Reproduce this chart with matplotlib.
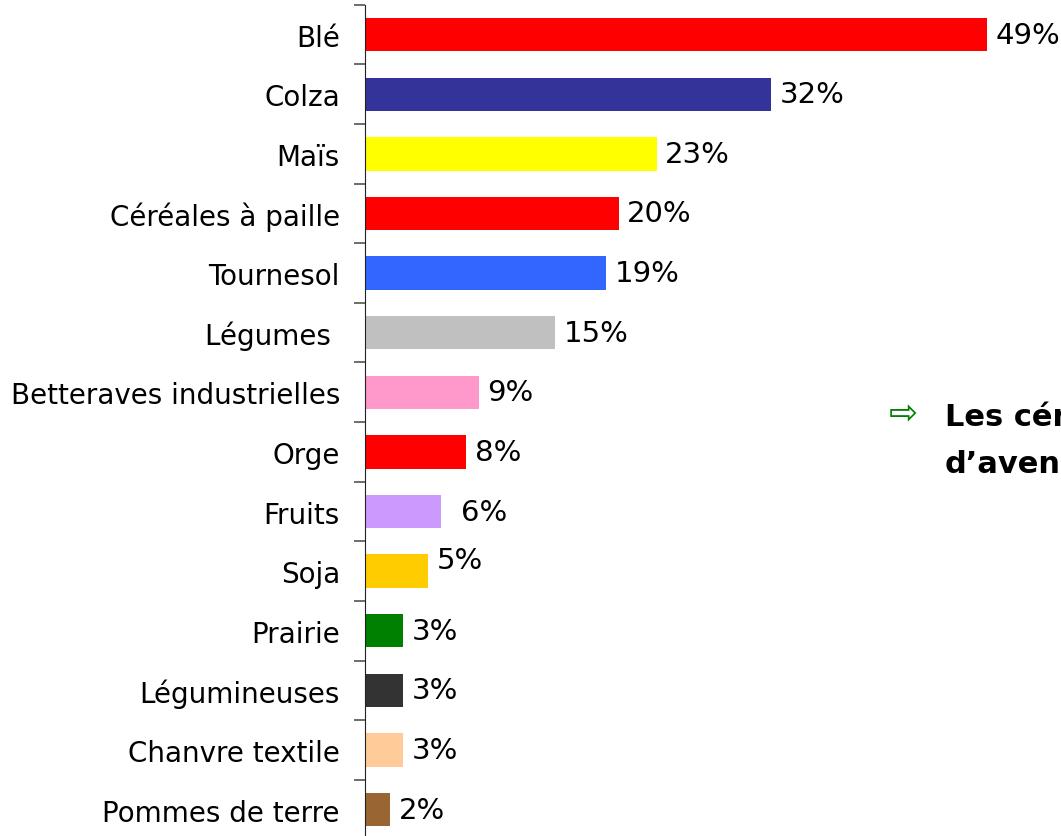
import numpy as np
import matplotlib.pyplot as plt

# crop shares (%)
categories = ['Blé', 'Colza', 'Maïs', 'Céréales à paille', 'Tournesol', 'Légumes ',
              'Betteraves industrielles', 'Orge', 'Fruits', 'Soja', 'Prairie',
              'Légumineuses', 'Chanvre textile', 'Pommes de terre']
values = [49, 32, 23, 20, 19, 15, 9, 8, 6, 5, 3, 3, 3, 2]
colors = ['#FF0000', '#333399', '#FFFF00', '#FF0000', '#3366FF', '#C0C0C0',
          '#FF99CC', '#FF0000', '#CC99FF', '#FFCC00', '#008000', '#333333',
          '#FFCC99', '#996633']
value_labels = [f'{v}%' for v in values]

fig = plt.figure(figsize=(10.61, 8.37), dpi=100)
ax = fig.add_axes([0.344, -0.004, 0.656, 0.997])

y = np.arange(len(categories))
ax.barh(y, values, height=0.56, color=colors)
ax.set_ylim(len(categories) - 0.5, -0.5)
ax.set_xlim(0, 54.85)

for s in ['top', 'right', 'bottom']:
    ax.spines[s].set_visible(False)
ax.spines['left'].set_color('#222222')
ax.set_xticks([])

ax.set_yticks(y)
ax.set_yticklabels(categories, fontsize=20)
ax.tick_params(axis='y', which='major', length=0, pad=18)
ax.set_yticks(np.arange(len(categories) + 1) - 0.5, minor=True)
ax.tick_params(axis='y', which='minor', length=8, width=1.2, color='#555555')

# value labels; a couple of them sit a little off in the original
nudge = {'Fruits': (14, 0), 'Soja': (6, 8)}
for yi, v, lab, cat in zip(y, values, value_labels, categories):
    dx, dy = nudge.get(cat, (6, 0))
    ax.annotate(lab, (v, yi), xytext=(dx, dy), textcoords='offset points',
                ha='left', va='center', fontsize=21, annotation_clip=False)

fig.text(903 / 1061, 1 - 414 / 837, '⇨', color='#008000', fontsize=25,
         ha='center', va='center')
fig.text(945 / 1061, 1 - 441 / 837, 'Les céréales restent les cultures\nd’avenir',
         fontsize=22, fontweight='bold', ha='left', va='center', linespacing=1.75)

fig.savefig('out.png', dpi=100)
